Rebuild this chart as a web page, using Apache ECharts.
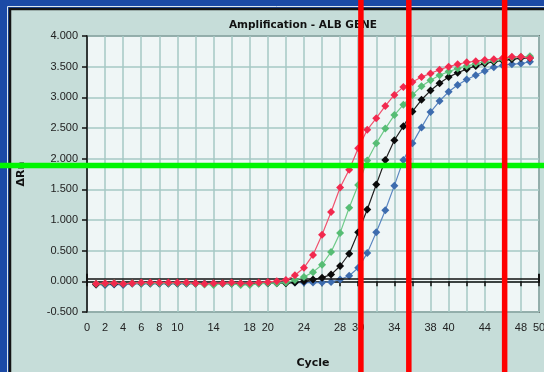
<!DOCTYPE html>
<html><head><meta charset="utf-8">
<script src="https://cdn.jsdelivr.net/npm/echarts@6/dist/echarts.min.js"></script>
<style>html,body{margin:0;padding:0;background:#1b4aa6}#c{width:544px;height:372px}</style>
</head><body><div id="c"></div>
<script>
const cycles = [1,2,3,4,5,6,7,8,9,10,11,12,13,14,15,16,17,18,19,20,21,22,23,24,25,26,27,28,29,30,31,32,33,34,35,36,37,38,39,40,41,42,43,44,45,46,47,48,49];
const redSeries = [-0.04,-0.03,-0.03,-0.04,-0.03,-0.02,-0.02,-0.02,-0.02,-0.02,
  -0.02,-0.03,-0.04,-0.03,-0.03,-0.02,-0.03,-0.03,-0.02,-0.01,
  0.00,0.02,0.10,0.22,0.43,0.76,1.13,1.53,1.82,2.17,
  2.47,2.66,2.86,3.04,3.17,3.25,3.33,3.39,3.45,3.50,
  3.54,3.57,3.59,3.61,3.62,3.64,3.66,3.66,3.64];
const greenSeries = [-0.04,-0.04,-0.03,-0.04,-0.03,-0.03,-0.03,-0.03,-0.03,-0.03,
  -0.03,-0.04,-0.05,-0.06,-0.04,-0.04,-0.06,-0.06,-0.04,-0.03,
  -0.03,-0.02,0.02,0.07,0.15,0.27,0.48,0.79,1.20,1.57,
  1.97,2.25,2.49,2.71,2.88,3.04,3.18,3.28,3.36,3.42,
  3.47,3.51,3.55,3.58,3.60,3.62,3.65,3.66,3.67];
const blackSeries = [-0.05,-0.04,-0.04,-0.04,-0.03,-0.03,-0.03,-0.03,-0.03,-0.03,
  -0.03,-0.03,-0.04,-0.04,-0.03,-0.03,-0.04,-0.04,-0.03,-0.03,
  -0.03,-0.03,-0.02,0.00,0.03,0.06,0.11,0.25,0.45,0.80,
  1.17,1.58,1.98,2.30,2.53,2.77,2.96,3.11,3.23,3.33,
  3.40,3.46,3.51,3.55,3.58,3.60,3.62,3.64,3.64];
const blueSeries = [-0.05,-0.06,-0.05,-0.06,-0.04,-0.04,-0.04,-0.04,-0.04,-0.04,
  -0.04,-0.04,-0.04,-0.04,-0.04,-0.04,-0.04,-0.04,-0.03,-0.03,
  -0.02,-0.02,-0.02,-0.02,-0.02,-0.02,-0.01,0.03,0.09,0.22,
  0.46,0.80,1.16,1.56,1.98,2.25,2.51,2.76,2.94,3.09,
  3.20,3.29,3.36,3.43,3.49,3.52,3.54,3.55,3.58];
const xTickLabels = [0,2,4,6,8,10,14,18,20,24,28,30,34,38,40,44,48,50];
const thresholdValue = 0.05;
const redLineCycles = [30.3, 35.6, 46.2];
const greenLineValue = 1.89;

const chart = echarts.init(document.getElementById('c'), null, {renderer:'canvas'});
function mk(name, vals, color, lineColor, size, z) {
  return {
    name, type:'line', data: cycles.map((c,i)=>[c, vals[i]]),
    symbol:'diamond', symbolSize:size, z,
    itemStyle:{color}, lineStyle:{color:lineColor, width:1.2},
    animation:false
  };
}
const series = [
  mk('blue', blueSeries, '#3d6cae', '#5a86c0', 8, 3),
  mk('black', blackSeries, '#0a0a0a', '#222', 8, 4),
  mk('green', greenSeries, '#56bd74', '#6fca8a', 8, 5),
  mk('red', redSeries, '#f2294e', '#f0526e', 8, 6)
];
series[0].markLine = {
  silent:true, symbol:['rect','rect'], symbolSize:[9,2],
  label:{show:false},
  lineStyle:{color:'#111', width:1.6, type:'solid'},
  data:[[{coord:[0,thresholdValue]},{coord:[50,thresholdValue]}]]
};
chart.setOption({
  backgroundColor:'#1b4aa6',
  animation:false,
  textStyle:{fontFamily:'Liberation Sans'},
  title:{text:'Amplification - ALB GENE', left:298, top:15, textAlign:'center',
    textStyle:{fontSize:10.5, fontWeight:'bold', color:'#111', fontFamily:'DejaVu Sans'}},
  graphic:[
    {type:'rect', z:-100, shape:{x:7.5,y:6.5,width:600,height:400}, style:{fill:'none', stroke:'#dbe6ee', lineWidth:1}},
    {type:'rect', z:-99, shape:{x:10,y:9,width:600,height:400}, style:{fill:'#c6ddd9', stroke:'#141414', lineWidth:2.5}}
  ],
  grid:{left:87, top:36, right:5, bottom:60, outerBoundsMode:'none', containLabel:false,
    show:true, backgroundColor:'#eff6f6', borderColor:'#333', borderWidth:1.5},
  xAxis:{type:'value', min:0, max:50, interval:2,
    name:'Cycle', nameLocation:'middle', nameGap:46,
    nameTextStyle:{fontSize:11, fontWeight:'bold', color:'#111', fontFamily:'DejaVu Sans'},
    axisLine:{lineStyle:{color:'#111', width:1.5}},
    axisTick:{show:true, length:5, lineStyle:{color:'#111', width:1.5}},
    axisLabel:{color:'#222', fontSize:11, margin:10,
      formatter:v=> xTickLabels.indexOf(v) >= 0 ? String(v) : ''},
    splitLine:{show:true, lineStyle:{color:'#a6c8c4', width:1.5}}},
  yAxis:{type:'value', min:-0.5, max:4, interval:0.5,
    name:'ΔRn', nameLocation:'middle', nameGap:60,
    nameTextStyle:{fontSize:11, fontWeight:'bold', color:'#111', fontFamily:'DejaVu Sans'},
    axisLine:{show:true, lineStyle:{color:'#111', width:1.5}},
    axisTick:{show:true, length:5, lineStyle:{color:'#111', width:1.5}},
    axisLabel:{color:'#222', fontSize:11, margin:9, formatter:v=>v.toFixed(3)},
    splitLine:{show:true, lineStyle:{color:'#a6c8c4', width:1.5}}},
  series
});
const overlays = [];
const gy = chart.convertToPixel({yAxisIndex:0}, greenLineValue);
overlays.push({type:'line', z:200, shape:{x1:0,y1:gy,x2:544,y2:gy}, style:{stroke:'#00f500', lineWidth:5.5}});
redLineCycles.forEach(c=>{
  const x = chart.convertToPixel({xAxisIndex:0}, c);
  overlays.push({type:'line', z:201, shape:{x1:x,y1:0,x2:x,y2:372}, style:{stroke:'#ff0000', lineWidth:5.5}});
});
const opt = chart.getOption();
chart.setOption({graphic: opt.graphic[0].elements.concat(overlays)});
</script></body></html>
